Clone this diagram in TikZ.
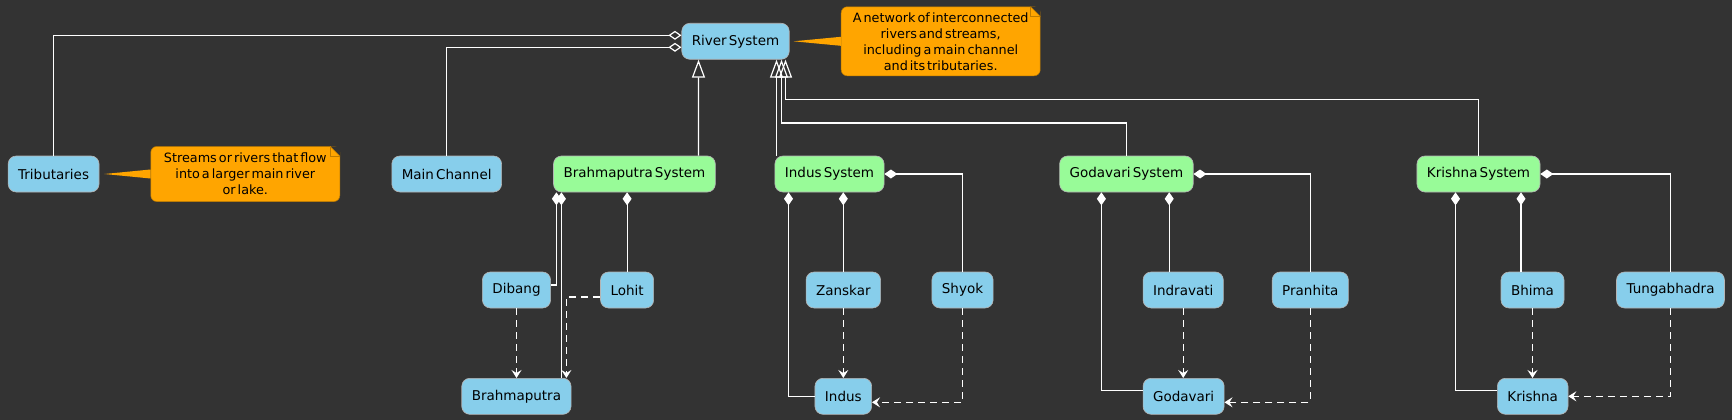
\documentclass[tikz,border=0pt]{standalone}
\usepackage{fontspec}
\setmainfont{DejaVu Sans}[WordSpace=0.5]
\usepackage{tikz}
\usetikzlibrary{arrows.meta}
\usetikzlibrary{calc}

\definecolor{bgdark}{HTML}{333333}
\definecolor{riverblue}{HTML}{87CEEB}
\definecolor{sysgreen}{HTML}{98FB98}
\definecolor{noteorange}{HTML}{FFA500}
\definecolor{edgegrey}{HTML}{B4B4B4}

\tikzset{
	cls/.style={draw=edgegrey, line width=0.6pt, rounded corners=8pt, minimum height=36pt, inner xsep=10pt, inner ysep=2pt, text=black, font=\fontsize{13.5}{16}\selectfont},
	riverbox/.style={cls, fill=riverblue},
	sysbox/.style={cls, fill=sysgreen},
	notebox/.style={draw=noteorange!75!black, line width=0.5pt, fill=noteorange, rounded corners=6pt, align=center, text=black, inner sep=0pt, font=\fontsize{12.8}{16}\selectfont},
	wire/.style={draw=white, line width=1.2pt},
	agg/.style={wire, -{Diamond[open, length=13pt, width=9pt]}},
	gen/.style={wire, -{Triangle[open, length=18pt, width=13pt]}},
	comp/.style={wire, -{Diamond[fill=white, length=13pt, width=9pt]}},
	dep/.style={wire, dash pattern=on 7pt off 5pt, -{Stealth[length=8pt, width=10pt, inset=3pt]}},
}

\begin{document}
\begin{tikzpicture}[x=1pt, y=-1pt]
		\fill[bgdark] (0,0) rectangle (1732,420);
		\useasboundingbox (0,0) rectangle (1732,420);
		
		% top
		\node [riverbox] (river) at (735.5,41.3) {River System};
		\node [notebox, minimum width=199pt, minimum height=69pt] (n2) at (940.7,41.3) {A network of interconnected\\rivers and streams,\\including a main channel\\and its tributaries.};
		
		% middle row
		\node [riverbox] (trib) at (53.6,174) {Tributaries};
		\node [notebox, minimum width=189pt, minimum height=55pt] (n1) at (245.3,174) {Streams or rivers that flow\\into a larger main river\\or lake.};
		\node [riverbox] (chan) at (446.7,174) {Main Channel};
		\node [sysbox] (bsys) at (634.4,174) {Brahmaputra System};
		\node [sysbox] (isys) at (829.5,174) {Indus System};
		\node [sysbox] (gsys) at (1126.4,174) {Godavari System};
		\node [sysbox] (ksys) at (1478.5,174) {Krishna System};
		
		% tributaries
		\node [riverbox] (dib) at (516.5,290) {Dibang};
		\node [riverbox] (loh) at (627.1,290) {Lohit};
		\node [riverbox] (zan) at (843.3,290) {Zanskar};
		\node [riverbox] (shy) at (962.5,290) {Shyok};
		\node [riverbox] (indr) at (1183.2,290) {Indravati};
		\node [riverbox] (pra) at (1310.3,290) {Pranhita};
		\node [riverbox] (bhi) at (1532.5,290) {Bhima};
		\node [riverbox] (tun) at (1670.5,290) {Tungabhadra};
		
		% main rivers
		\node [riverbox] (brah) at (516.4,396.3) {Brahmaputra};
		\node [riverbox] (ind) at (843.3,396.3) {Indus};
		\node [riverbox] (god) at (1183.6,396.3) {Godavari};
		\node [riverbox] (kri) at (1532.7,396.3) {Krishna};
		
		% note corners and pointers
		\fill [bgdark] ([xshift=-10pt]n1.north east) -- (n1.north east) -- ([yshift=-10pt]n1.north east) -- cycle;
		\draw [noteorange!75!black, line width=0.5pt] ([xshift=-10pt]n1.north east) -- ([yshift=-10pt]n1.north east);
		\draw [noteorange!75!black, line width=0.5pt] ([xshift=-10pt]n1.north east) |- ([yshift=-10pt]n1.north east);
		\fill [bgdark] ([xshift=-10pt]n2.north east) -- (n2.north east) -- ([yshift=-10pt]n2.north east) -- cycle;
		\draw [noteorange!75!black, line width=0.5pt] ([xshift=-10pt]n2.north east) -- ([yshift=-10pt]n2.north east);
		\draw [noteorange!75!black, line width=0.5pt] ([xshift=-10pt]n2.north east) |- ([yshift=-10pt]n2.north east);
		\fill [noteorange] ([xshift=5pt]trib.east) -- ([yshift=4.5pt]n1.west) -- ([yshift=-4.5pt]n1.west) -- cycle;
		\fill [noteorange] ([xshift=4pt]river.east) -- ([yshift=4.5pt]n2.west) -- ([yshift=-4.5pt]n2.west) -- cycle;
		
		% aggregation
		\draw [agg] (trib.north) |- ([yshift=6pt]river.west);
		\draw [agg] (chan.north) |- ([yshift=-6pt]river.west);
		
		% generalization
		\draw [gen] ([xshift=64pt]bsys.north) -- ([xshift=-37pt]river.south);
		\draw [gen] ([xshift=-53pt]isys.north) -- ([xshift=41pt]river.south);
		\draw [gen] (gsys.north) -- ++(0,-32.7) -| ([xshift=46pt]river.south);
		\draw [gen] (ksys.north) -- ++(0,-56) -| ([xshift=50pt]river.south);
		
		% composition
		\draw [comp] ([yshift=5pt]dib.east) -| ([xshift=-78pt]bsys.south);
		\draw [comp] ([xshift=45pt]brah.north) -- ([xshift=45pt]brah.north |- bsys.south);
		\draw [comp] (loh.north) -- (loh.north |- bsys.south);
		\draw [comp] (ind.west) -| ([xshift=-41pt]isys.south);
		\draw [comp] (zan.north) -- (zan.north |- isys.south);
		\draw [comp] (shy.north) |- (isys.east);
		\draw [comp] ([yshift=6pt]god.west) -| ([xshift=-25pt]gsys.south);
		\draw [comp] ([xshift=-14pt]indr.north) -- ([xshift=-14pt]indr.north |- gsys.south);
		\draw [comp] (pra.north) |- (gsys.east);
		\draw [comp] ([yshift=6pt]kri.west) -| ([xshift=-23pt]ksys.south);
		\draw [comp] ([xshift=-11.5pt]bhi.north) -- ([xshift=-11.5pt]bhi.north |- ksys.south);
		\draw [comp] (tun.north) |- (ksys.east);
		
		% flows into
		\draw [dep] (dib.south) -- (dib.south |- brah.north);
		\draw [dep] ([yshift=-7pt]loh.west) -| ([xshift=50pt]brah.north);
		\draw [dep] (zan.south) -- (zan.south |- ind.north);
		\draw [dep] (shy.south) |- ([yshift=-6pt]ind.east);
		\draw [dep] (indr.south) -- (indr.south |- god.north);
		\draw [dep] (pra.south) |- ([yshift=-6pt]god.east);
		\draw [dep] (bhi.south) -- (bhi.south |- kri.north);
		\draw [dep] (tun.south) |- (kri.east);
		
	\end{tikzpicture}
\end{document}
